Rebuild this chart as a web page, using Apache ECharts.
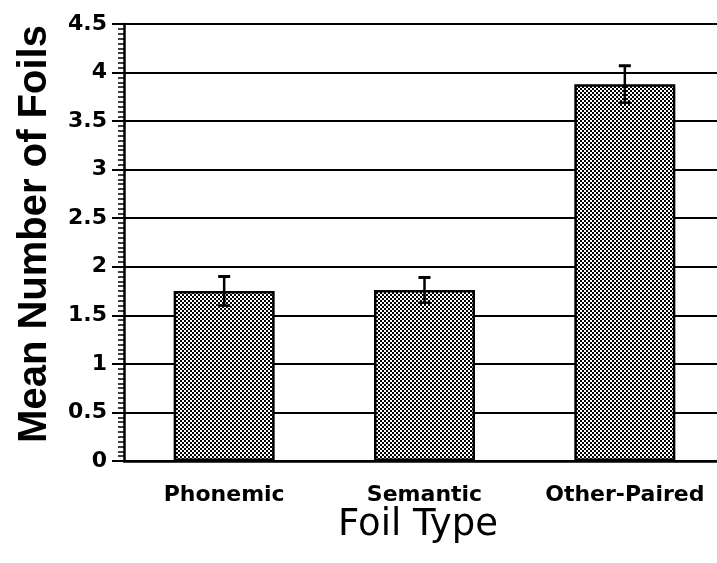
<!DOCTYPE html>
<html>
<head>
<meta charset="utf-8">
<script src="https://cdn.jsdelivr.net/npm/echarts@6/dist/echarts.min.js"></script>
<style>
  html, body { margin: 0; padding: 0; background: #fff; }
  #main { width: 717px; height: 563px; }
</style>
</head>
<body>
<div id="main"></div>
<script>
var categories = ["Phonemic", "Semantic", "Other-Paired"];
var means = [1.75, 1.76, 3.88];
var errors = [0.15, 0.13, 0.19];

// checker fill like the old halftone bars
var tile = document.createElement("canvas");
tile.width = 4;
tile.height = 4;
var tctx = tile.getContext("2d");
tctx.fillStyle = "#fff";
tctx.fillRect(0, 0, 4, 4);
tctx.fillStyle = "#000";
tctx.fillRect(0, 0, 2, 2);
tctx.fillRect(2, 2, 2, 2);

var errData = categories.map(function (c, i) {
  return [i, means[i] - errors[i], means[i] + errors[i]];
});

var chart = echarts.init(document.getElementById("main"));

var option = {
  backgroundColor: "#fff",
  animation: false,
  grid: { left: 124, top: 24, width: 601, height: 437, outerBoundsMode: "none" },
  graphic: [
    {
      type: "text",
      x: 35,
      y: 234,
      rotation: Math.PI / 2,
      style: {
        text: "Mean Number of Foils",
        fontFamily: "Liberation Sans",
        fontWeight: "bold",
        fontSize: 40,
        fill: "#000",
        align: "center",
        verticalAlign: "middle"
      }
    },
    {
      type: "text",
      x: 418,
      y: 525,
      style: {
        text: "Foil Type",
        fontFamily: "DejaVu Sans",
        fontSize: 37,
        fill: "#000",
        align: "center",
        verticalAlign: "middle"
      }
    }
  ],
  xAxis: {
    type: "category",
    data: categories,
    axisLine: { lineStyle: { color: "#000", width: 2.5 } },
    axisTick: { show: false },
    axisLabel: {
      interval: 0,
      margin: 23,
      fontFamily: "DejaVu Sans",
      fontWeight: "bold",
      fontSize: 22,
      color: "#000"
    }
  },
  yAxis: {
    type: "value",
    min: 0,
    max: 4.5,
    interval: 0.5,
    axisLine: { show: true, lineStyle: { color: "#000", width: 2.5 } },
    axisTick: { show: true, length: 12, lineStyle: { color: "#000", width: 2 } },
    minorTick: { show: true, splitNumber: 10, length: 6, lineStyle: { color: "#000", width: 1.5 } },
    splitLine: { show: true, lineStyle: { color: "#000", width: 2 } },
    axisLabel: {
      margin: 17,
      fontFamily: "DejaVu Sans",
      fontWeight: "bold",
      fontSize: 22,
      color: "#000"
    }
  },
  series: [
    {
      type: "bar",
      data: means,
      barWidth: 101,
      itemStyle: {
        color: { image: tile, repeat: "repeat" },
        borderColor: "#000",
        borderWidth: 2.5
      }
    },
    {
      type: "custom",
      data: errData,
      z: 10,
      renderItem: function (params, api) {
        var x = api.value(0);
        var lo = api.coord([x, api.value(1)]);
        var hi = api.coord([x, api.value(2)]);
        var half = 6;
        var style = { stroke: "#000", lineWidth: 2.5 };
        return {
          type: "group",
          children: [
            { type: "line", shape: { x1: hi[0], y1: hi[1], x2: lo[0], y2: lo[1] }, style: style },
            { type: "line", shape: { x1: hi[0] - half, y1: hi[1], x2: hi[0] + half, y2: hi[1] }, style: { stroke: "#000", lineWidth: 3 } },
            { type: "line", shape: { x1: lo[0] - half, y1: lo[1], x2: lo[0] + half, y2: lo[1] }, style: style }
          ]
        };
      }
    }
  ]
};

chart.setOption(option);
window.onresize = chart.resize;
</script>
</body>
</html>
